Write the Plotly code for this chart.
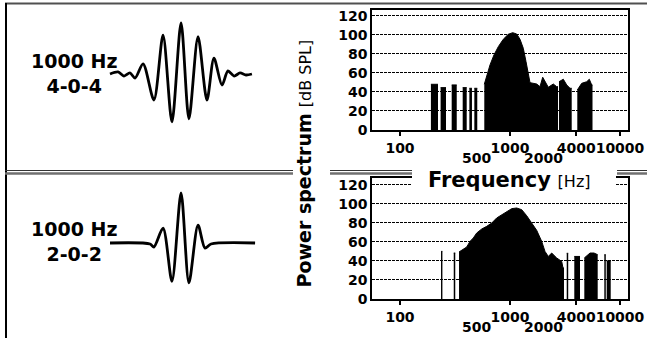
import math
import plotly.graph_objects as go

W, H = 647, 338

# ---------------- data ----------------
# Top spectrum (1000 Hz, 4-0-4 tone burst); None separates spectral bars
top_freq = [191, 221.5, None, 234, 262, None, 295, 328, None, 371.5, 404, None,
            427, 451, None, 474, 504, None,
            584, 614, 658, 715, 783, 869, 965, 1058, 1150, 1233, 1321, 1398,
            1467, 1520, 1749, 1874, 1983, 2080, 2229, 2475, 2658, 2732, None,
            2790, 3052, 3278, 3513, 3639, None,
            4091, 4485, 4982, 5260, 5530, 5623]
top_level = [48, 48, None, 44.5, 44.5, None, 47.3, 47.3, None, 44.5, 44.5, None,
             43.8, 43.8, None, 43.8, 43.8, None,
             48, 57.8, 68.3, 78.8, 87.5, 95.3, 100.5, 102.2, 100.8, 95.3, 85.8, 71.8,
             57.8, 49.7, 48.3, 45.5, 55.4, 50.7, 44.9, 48.3, 45.5, 45.5, None,
             50.7, 53.3, 47.3, 43.8, 43.8, None,
             42, 49, 50.7, 53.3, 47.3, 47.3]

# Bottom spectrum (1000 Hz, 2-0-2 tone burst)
bot_freq = [236, 243, None, 308, 318, None,
            344, 376, 404, 433, 464, 498, 553, 614, 682, 757, 841, 933, 1036, 1150,
            1278, 1418, 1575, 1749, 1942, 2080, 2229, 2394, 2658, 2951, 3033, 3096, None,
            3278, 3382, None,
            3841, 4330, None,
            4737, 5337, 5802, 6270, None,
            7200, 7428, None,
            7569, 8233]
bot_level = [50, 50, None, 48.3, 48.3, None,
             49.4, 51.8, 54.6, 60.5, 64.1, 69.3, 73.5, 76.3, 79.8, 85.1, 88.6, 92, 94.9, 95.6,
             93.8, 87.5, 79.8, 72.1, 60.5, 50, 44.7, 48.3, 43.1, 39.5, 32.6, 32.6, None,
             48, 48, None,
             44.7, 44.7, None,
             43.1, 48.3, 48.3, 46.5, None,
             46.5, 46.5, None,
             40, 40]

# Waveforms (time in ms, relative amplitude)
top_t = [0, 0.46, 0.8, 1.14, 1.43, 1.89, 2.51, 3.03, 3.54, 4.06, 4.51, 5.03, 5.54,
         5.94, 6.4, 6.74, 7.09, 7.43, 7.77, 8.11]
top_amp = [0, 0.04, -0.04, 0.02, -0.08, 0.2, -0.51, 0.76, -0.94, 1.0, -0.88, 0.73, -0.51,
           0.31, -0.22, 0.06, -0.04, 0.02, -0.02, 0]
bot_t = [0, 2.29, 2.51, 3.03, 3.54, 4.06, 4.51, 5.03, 5.43, 5.77, 8.29]
bot_amp = [0, -0.02, -0.08, 0.29, -0.75, 0.98, -0.78, 0.35, -0.10, -0.02, 0]

y_ticks = [0, 20, 40, 60, 80, 100, 120]
x_ticks = [100, 1000, 4000, 10000]
x_long_ticks = [500, 2000]
labels = [("1000 Hz", "4-0-4"), ("1000 Hz", "2-0-2")]

assert len(top_freq) == len(top_level)
assert len(bot_freq) == len(bot_level)

# ---------------- layout helpers ----------------
def px(x):
    return x / W

def py(y):
    return 1 - y / H

def segments(xs, ys):
    seg, out = ([], []), []
    for xv, yv in zip(xs, ys):
        if xv is None:
            if seg[0]:
                out.append(seg)
            seg = ([], [])
        else:
            seg[0].append(xv)
            seg[1].append(yv)
    if seg[0]:
        out.append(seg)
    return out

FONT = "DejaVu Sans"
fig = go.Figure()

for xs, ys, xa, ya in [(top_freq, top_level, "x", "y"), (bot_freq, bot_level, "x2", "y2")]:
    for sx, sy in segments(xs, ys):
        fig.add_trace(go.Scatter(x=sx, y=sy, mode="lines", fill="tozeroy",
                                 fillcolor="black", line=dict(color="black", width=1),
                                 xaxis=xa, yaxis=ya, showlegend=False, hoverinfo="skip"))

fig.add_trace(go.Scatter(x=top_t, y=top_amp, mode="lines",
                         line=dict(color="black", width=2.8, shape="spline", smoothing=0.8),
                         xaxis="x3", yaxis="y3", showlegend=False, hoverinfo="skip"))
fig.add_trace(go.Scatter(x=bot_t, y=bot_amp, mode="lines",
                         line=dict(color="black", width=2.8, shape="spline", smoothing=0.8),
                         xaxis="x4", yaxis="y4", showlegend=False, hoverinfo="skip"))

tickfont = dict(family=FONT, size=14, color="black", weight="bold")
xdom = [px(372), px(628)]
xr = [1.7455, 4.0727]

def xaxis(anchor):
    return dict(type="log", range=xr, domain=xdom, anchor=anchor, automargin=False,
                showline=True, mirror=True, linecolor="black", linewidth=1.5,
                showgrid=False, zeroline=False,
                tickmode="array", tickvals=x_ticks, ticktext=[str(v) for v in x_ticks],
                ticks="outside", ticklen=4, tickwidth=1.5, tickcolor="black",
                tickangle=0, tickfont=tickfont)

def yaxis(anchor, dom, top):
    return dict(range=[0, top], domain=dom, anchor=anchor, automargin=False,
                showline=True, mirror=True, linecolor="black", linewidth=1.5,
                showgrid=True, gridcolor="black", gridwidth=1, griddash="3px,1px",
                zeroline=False, tickmode="array", tickvals=y_ticks, ticks="",
                tickfont=tickfont)

hidden = dict(visible=False, showgrid=False, zeroline=False, automargin=False)

fig.update_layout(
    width=W, height=H, autosize=False,
    margin=dict(l=0, r=0, t=0, b=0, pad=0, autoexpand=False),
    paper_bgcolor="white", plot_bgcolor="white",
    xaxis=xaxis("y"),
    yaxis=yaxis("x", [py(130), py(10)], 126),
    xaxis2=xaxis("y2"),
    yaxis2=yaxis("x2", [py(299), py(178)], 127.1),
    xaxis3=dict(hidden, domain=[0, px(300)], range=[-6.286, 10.857], anchor="y3"),
    yaxis3=dict(hidden, domain=[0.5, 1], range=[-1.863, 1.451], anchor="x3"),
    xaxis4=dict(hidden, domain=[0, px(300)], range=[-6.286, 10.857], anchor="y4"),
    yaxis4=dict(hidden, domain=[0, 0.5], range=[-1.863, 1.451], anchor="x4"),
)

shapes = []
def hline(x0, x1, y, color, width):
    shapes.append(dict(type="line", xref="paper", yref="paper",
                       x0=px(x0), x1=px(x1), y0=py(y), y1=py(y),
                       line=dict(color=color, width=width), layer="above"))

# white mask behind "Frequency [Hz]"
shapes.append(dict(type="rect", xref="paper", yref="paper",
                   x0=px(412), x1=px(616), y0=py(190), y1=py(165),
                   fillcolor="white", line=dict(width=0), layer="above"))
hline(5, 647, 3.5, "#505050", 2)
shapes.append(dict(type="line", xref="paper", yref="paper",
                   x0=px(6), x1=px(6), y0=py(3), y1=0,
                   line=dict(color="black", width=2), layer="above"))
for a, b in [(5, 293), (330, 412), (617, 647)]:
    hline(a, b, 170.5, "#333333", 1)
    hline(a, b, 173.5, "#707070", 2.5)
# long tick marks at 500 and 2000 Hz
for xref, y0 in [("x", 130), ("x2", 299)]:
    for v in x_long_ticks:
        shapes.append(dict(type="line", xref=xref, yref="paper",
                           x0=math.log10(v), x1=math.log10(v), y0=py(y0), y1=py(y0 + 20),
                           line=dict(color="black", width=2)))
fig.update_layout(shapes=shapes)

ann = []
lab_font = dict(family=FONT, size=19, color="black", weight="bold")
for (l1, l2), yc in zip(labels, [73, 241]):
    ann.append(dict(text=l1 + "<br>" + l2, x=px(74), y=py(yc), xref="paper", yref="paper",
                    showarrow=False, font=lab_font, align="center",
                    xanchor="center", yanchor="middle"))

for xref, ylab in [("x", 158), ("x2", 327)]:
    for v in x_long_ticks:
        ann.append(dict(text=str(v), x=math.log10(v), y=py(ylab), xref=xref, yref="paper",
                        showarrow=False, font=tickfont, xanchor="center", yanchor="middle"))

ann.append(dict(text="<b>Power spectrum</b> <span style='font-size:16px'>[dB SPL]</span>",
                x=px(303), y=py(163.5), xref="paper", yref="paper", textangle=-90,
                showarrow=False, font=dict(family=FONT, size=19, color="black"),
                xanchor="center", yanchor="middle"))
ann.append(dict(text="<b>Frequency</b> <span style='font-size:16px'>[Hz]</span>",
                x=px(509.5), y=py(180), xref="paper", yref="paper",
                showarrow=False, font=dict(family=FONT, size=21, color="black"),
                xanchor="center", yanchor="middle"))
fig.update_layout(annotations=ann)

fig.write_html("out.html", config={"displayModeBar": False},
               post_script="document.body.style.margin='0';")
